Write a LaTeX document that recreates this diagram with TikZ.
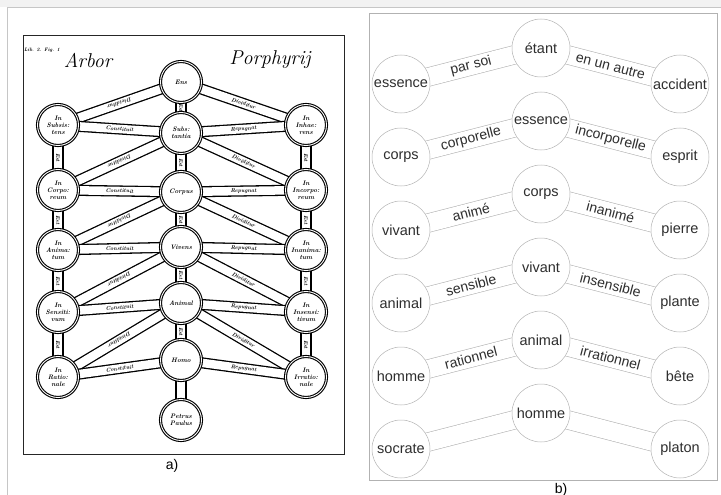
\documentclass[tikz,border=0pt]{standalone}
\usepackage{fontspec}
\newfontfamily\sansfam{Liberation Sans}
\usepackage{xcolor}
\usepackage{tikz}
\usetikzlibrary{backgrounds}
\definecolor{ringgray}{HTML}{B4B4B4}
\definecolor{inkgray}{HTML}{2E2E2E}

\begin{document}
\begin{tikzpicture}
		[x=1pt,y=-1pt,
		ring/.style={circle,draw,fill=white,line width=1.1pt,double,double distance=0.9pt,
			minimum size=41pt,inner sep=0pt,align=center,
			font=\fontsize{6.5}{6.8}\selectfont\bfseries\itshape},
		bar/.style={draw,line width=1.3pt,double=white,double distance=8.5pt},
		barlbl/.style={sloped,inner sep=0pt,font=\fontsize{5.5}{6}\selectfont\bfseries\itshape},
		disc/.style={circle,draw=ringgray,fill=white,line width=0.5pt,minimum size=58pt,
			inner sep=0pt,text=inkgray,font=\sansfam\fontsize{14.5}{16}\selectfont},
		band/.style={draw=ringgray,line width=0.6pt,double=white,double distance=18pt},
		bandlbl/.style={sloped,inner sep=0pt,text=inkgray,font=\sansfam\fontsize{14}{16}\selectfont}]
		\useasboundingbox (0,0) rectangle (721,495);
		\fill[gray!10] (0,0) rectangle (721,7);
		\draw[gray!45] (7,495) -- (7,7) -- (721,7);
		\draw[black!85,line width=1pt] (23,36) rectangle (344,454);
		\draw[gray!60] (369,13) rectangle (717,480);
		\node[font=\sansfam\fontsize{14}{16}\selectfont] (capa) at (172,466) {a)};
		\node[font=\sansfam\fontsize{14}{16}\selectfont] (capb) at (561,490) {b)};
		\node[font=\fontsize{5}{6}\selectfont\bfseries\itshape] (libfig) at (42,50) {Lib. 2. Fig. 1};
		\node[font=\fontsize{20}{22}\selectfont\itshape] (arbor) at (88,60) {Arbor};
		\node[font=\fontsize{20}{22}\selectfont\itshape] (porph) at (270,60) {Porphyrij};
		\node[ring] (a0) at (181,82) {Ens};
		\node[ring] (a1) at (181,133) {Subs:\\tantia};
		\node[ring] (a2) at (181,192) {Corpus};
		\node[ring] (a3) at (181,247) {Vivens};
		\node[ring] (a4) at (181,303) {Animal};
		\node[ring] (a5) at (181,360) {Homo};
		\node[ring] (a6) at (181,420) {Petrus\\Paulus};
		\node[ring] (al1) at (58,125) {In\\Subsis:\\tens};
		\node[ring] (al2) at (58,190) {In\\Corpo:\\reum};
		\node[ring] (al3) at (58,250) {In\\Anima:\\tum};
		\node[ring] (al4) at (58,312) {In\\Sensiti:\\vum};
		\node[ring] (al5) at (58,377) {In\\Ratio:\\nale};
		\node[ring] (ar1) at (306,125) {In\\Inhae:\\rens};
		\node[ring] (ar2) at (306,190) {In\\Incorpo:\\reum};
		\node[ring] (ar3) at (306,250) {In\\Inanima:\\tum};
		\node[ring] (ar4) at (306,312) {In\\Insensi:\\tivum};
		\node[ring] (ar5) at (306,377) {In\\Irratio:\\nale};
		\begin{scope}[on background layer]
			\foreach \i [evaluate=\i as \j using int(\i-1)] in {1,...,5}{
				\draw[bar] (a\j.center) -- node[barlbl,allow upside down]{Dividitur} (al\i.center);
				\draw[bar] (a\j.center) -- node[barlbl]{Dividitur} (ar\i.center);
				\draw[bar] (al\i.center) -- node[barlbl]{Constituit} (a\i.center);
				\draw[bar] (a\i.center) -- node[barlbl]{Repugnat} (ar\i.center);
				\draw[bar] (a\j.center) -- node[barlbl]{Est} (a\i.center);
			}
			\draw[bar] (a5.center) -- (a6.center);
			\foreach \i [evaluate=\i as \k using int(\i+1)] in {1,...,4}{
				\draw[bar] (al\i.center) -- node[barlbl]{Est} (al\k.center);
				\draw[bar] (ar\i.center) -- node[barlbl]{Est} (ar\k.center);
			}
		\end{scope}
		\foreach \i/\m/\l/\r/\p/\q in {
			1/étant/essence/accident/par soi/en un autre,
			2/essence/corps/esprit/corporelle/incorporelle,
			3/corps/vivant/pierre/animé/inanimé,
			4/vivant/animal/plante/sensible/insensible,
			5/animal/homme/bête/rationnel/irrationnel,
			6/homme/socrate/platon//}{
			\pgfmathsetmacro\ym{48+73*(\i-1)}
			\pgfmathsetmacro\ys{\ym+36}
			\node[disc] (bm\i) at (541,\ym) {\m};
			\node[disc] (bl\i) at (401,\ys) {\l};
			\node[disc] (br\i) at (680,\ys) {\r};
			\begin{scope}[on background layer]
				\draw[band] (bl\i.center) -- node[bandlbl]{\p} (bm\i.center);
				\draw[band] (bm\i.center) -- node[bandlbl]{\q} (br\i.center);
			\end{scope}
		}
		\end{tikzpicture}
\end{document}
